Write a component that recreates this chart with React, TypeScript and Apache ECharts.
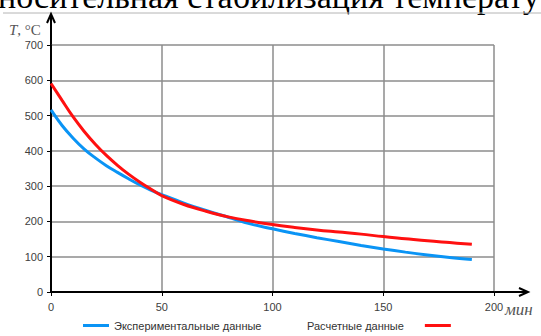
import React, { useEffect, useRef } from "react";
import * as echarts from "echarts";

// Time, minutes
const minutes = [0, 5, 10, 15, 20, 25, 30, 35, 40, 45, 50, 60, 70, 80, 90, 100, 110, 120, 130, 140, 150, 160, 170, 180, 190];
// Experimental temperature, °C
const experimental = [516, 472, 436, 405, 380, 358, 339, 321, 304, 289, 276, 252, 231, 212, 193, 179, 166, 154, 143, 132, 122, 113, 105, 98, 92];
// Calculated temperature, °C
const calculated = [591, 543, 496, 455, 419, 387, 359, 334, 312, 292, 273, 248, 229, 213, 201, 191, 183, 176, 170, 164, 157, 151, 145, 140, 135];

const xTicks = [0, 50, 100, 150, 200];
const yTicks = [0, 100, 200, 300, 400, 500, 600, 700];

const seriesNames = ["Экспериментальные данные", "Расчетные данные"];

const W = 541;
const H = 336;
const GRID = { left: 51, right: 47, top: 45, bottom: 44 };

export default function App() {
  const ref = useRef<HTMLDivElement>(null);

  useEffect(() => {
    if (!ref.current) return;
    const chart = echarts.init(ref.current, undefined, { renderer: "svg" });

    const axisX = GRID.left;
    const axisY = H - GRID.bottom;
    const plotRight = W - GRID.right;

    const toPairs = (ys: number[]) => minutes.map((m, i) => [m, ys[i]]);

    chart.setOption({
      animation: false,
      backgroundColor: "#ffffff",
      grid: { ...GRID },
      xAxis: {
        type: "value",
        min: xTicks[0],
        max: xTicks[xTicks.length - 1],
        interval: 50,
        axisLine: { show: true, onZero: false, lineStyle: { color: "#000", width: 2 } },
        axisTick: { show: true, length: 4, lineStyle: { color: "#000", width: 1 } },
        axisLabel: {
          color: "#404040",
          fontFamily: "Liberation Sans",
          fontSize: 11,
          margin: 9,
        },
        splitLine: { show: true, lineStyle: { color: "#8c8c8c", width: 1.5 } },
      },
      yAxis: {
        type: "value",
        min: yTicks[0],
        max: yTicks[yTicks.length - 1],
        interval: 100,
        axisLine: { show: true, onZero: false, lineStyle: { color: "#000", width: 2 } },
        axisTick: { show: true, length: 4, lineStyle: { color: "#000", width: 1 } },
        axisLabel: {
          color: "#404040",
          fontFamily: "Liberation Sans",
          fontSize: 11,
          margin: 8,
        },
        splitLine: { show: true, lineStyle: { color: "#8c8c8c", width: 1.5 } },
      },
      legend: [
        {
          data: [{ name: seriesNames[0], icon: "rect" }],
          left: 83,
          top: 320,
          itemWidth: 26,
          itemHeight: 3,
          itemGap: 0,
          padding: 0,
          textStyle: { color: "#333", fontFamily: "Liberation Sans", fontSize: 11 },
        },
        {
          data: [{ name: seriesNames[1], icon: "rect" }],
          left: 307,
          top: 320,
          align: "right",
          itemWidth: 26,
          itemHeight: 3,
          itemGap: 0,
          padding: 0,
          textStyle: {
            color: "#333",
            fontFamily: "Liberation Sans",
            fontSize: 11,
            padding: [0, 16, 0, 0],
          },
        },
      ],
      series: [
        {
          name: seriesNames[0],
          type: "line",
          data: toPairs(experimental),
          smooth: 0.4,
          showSymbol: false,
          lineStyle: { color: "#0a94f5", width: 3 },
          itemStyle: { color: "#0a94f5" },
          z: 3,
        },
        {
          name: seriesNames[1],
          type: "line",
          data: toPairs(calculated),
          smooth: 0.4,
          showSymbol: false,
          lineStyle: { color: "#ff1010", width: 3 },
          itemStyle: { color: "#ff1010" },
          z: 4,
        },
      ],
      graphic: [
        {
          type: "text",
          left: -2,
          top: -21,
          style: {
            text: "носительная стабилизация температу",
            font: '34px "Liberation Serif"',
            fill: "#000",
          },
        },
        {
          type: "line",
          shape: { x1: 3, y1: 13, x2: W, y2: 13 },
          style: { stroke: "#b4b4b4", lineWidth: 1 },
        },
        // y-axis extension with arrow head
        {
          type: "polyline",
          shape: { points: [[axisX, GRID.top], [axisX, 15]] },
          style: { stroke: "#000", lineWidth: 2 },
        },
        {
          type: "polyline",
          shape: { points: [[axisX - 4, 23], [axisX, 14], [axisX + 4, 23]] },
          style: { stroke: "#000", lineWidth: 2, fill: "none" },
        },
        // x-axis extension with arrow head
        {
          type: "polyline",
          shape: { points: [[plotRight, axisY], [527, axisY]] },
          style: { stroke: "#000", lineWidth: 2 },
        },
        {
          type: "polyline",
          shape: { points: [[519, axisY - 4], [528, axisY], [519, axisY + 4]] },
          style: { stroke: "#000", lineWidth: 2, fill: "none" },
        },
        {
          type: "text",
          left: 9,
          top: 22,
          style: {
            text: "{i|T}, °C",
            font: '15px "Liberation Serif"',
            fill: "#555",
            rich: { i: { fontStyle: "italic", fontFamily: "Liberation Serif", fontSize: 15, fill: "#555" } },
          },
        },
        {
          type: "text",
          left: 505,
          top: 301,
          style: {
            text: "мин",
            font: 'italic 17px "Liberation Serif"',
            fill: "#555",
          },
        },
      ],
    });

    return () => chart.dispose();
  }, []);

  return (
    <div
      ref={ref}
      style={{ position: "fixed", left: 0, top: 0, width: W, height: H, background: "#fff" }}
    />
  );
}
